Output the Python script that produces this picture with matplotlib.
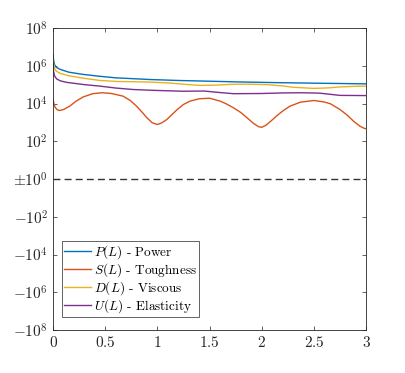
import matplotlib
matplotlib.use('Agg')
import matplotlib.pyplot as plt
import numpy as np

plt.rcParams['font.family'] = ['cmr10', 'DejaVu Serif']
plt.rcParams['mathtext.fontset'] = 'cm'
plt.rcParams['axes.unicode_minus'] = False

# values read as exponents (log10 of magnitude), the axis is sign*log10
xP = [0, 0.005, 0.015, 0.03, 0.067, 0.15, 0.29, 0.45, 0.6, 0.93, 1.2, 1.5, 1.8, 2.2, 2.6, 3.0]
yP = [6.6, 6.3, 6.05, 5.92, 5.81, 5.66, 5.54, 5.44, 5.36, 5.27, 5.22, 5.18, 5.14, 5.1, 5.07, 5.04]

xS = [0, 0.01, 0.02, 0.04, 0.06, 0.1, 0.16, 0.22, 0.29, 0.38, 0.47, 0.56, 0.67, 0.74, 0.8, 0.86,
      0.9, 0.95, 1.0, 1.04, 1.09, 1.14, 1.19, 1.25, 1.31, 1.4, 1.5, 1.6, 1.66, 1.73, 1.8, 1.86,
      1.92, 1.97, 2.0, 2.04, 2.09, 2.14, 2.2, 2.27, 2.37, 2.5, 2.6, 2.66, 2.75, 2.82, 2.88, 2.94,
      2.98, 3.0]
yS = [4.21, 3.95, 3.8, 3.67, 3.63, 3.68, 3.86, 4.12, 4.35, 4.52, 4.57, 4.53, 4.39, 4.16, 3.86, 3.5,
      3.24, 2.98, 2.89, 2.97, 3.15, 3.42, 3.68, 3.95, 4.12, 4.25, 4.28, 4.13, 3.98, 3.77, 3.52, 3.24,
      2.95, 2.77, 2.74, 2.85, 3.08, 3.33, 3.6, 3.86, 4.07, 4.16, 4.08, 3.98, 3.68, 3.38, 3.06, 2.8,
      2.69, 2.66]

xD = [0, 0.005, 0.015, 0.03, 0.067, 0.15, 0.29, 0.45, 0.6, 0.9, 1.1, 1.3, 1.41, 1.55, 1.73, 1.9,
      2.05, 2.2, 2.3, 2.5, 2.65, 2.75, 2.9, 3.0]
yD = [6.44, 6.1, 5.85, 5.72, 5.6, 5.47, 5.34, 5.22, 5.17, 5.14, 5.09, 5.0, 4.96, 4.97, 5.02, 5.02,
      5.0, 4.93, 4.86, 4.8, 4.83, 4.88, 4.91, 4.92]

xU = [0, 0.005, 0.015, 0.035, 0.07, 0.13, 0.3, 0.45, 0.6, 0.77, 1.0, 1.25, 1.45, 1.6, 1.73, 2.0,
      2.2, 2.37, 2.55, 2.75, 3.0]
yU = [6.1, 5.7, 5.45, 5.3, 5.2, 5.12, 5.0, 4.92, 4.82, 4.74, 4.69, 4.65, 4.66, 4.58, 4.52, 4.53,
      4.56, 4.57, 4.55, 4.43, 4.42]

labels = [r'$P(L)$ - Power', r'$S(L)$ - Toughness', r'$D(L)$ - Viscous', r'$U(L)$ - Elasticity']
colors = ['#0072BD', '#D95319', '#EDB120', '#7E2F8E']

ytick_pos = [8, 6, 4, 2, 0, -2, -4, -6, -8]
ytick_lab = [r'$10^{8}$', r'$10^{6}$', r'$10^{4}$', r'$10^{2}$', r'$\pm10^{0}$',
             r'$-10^{2}$', r'$-10^{4}$', r'$-10^{6}$', r'$-10^{8}$']
xtick_pos = [0, 0.5, 1, 1.5, 2, 2.5, 3]
xtick_lab = ['0', '0.5', '1', '1.5', '2', '2.5', '3']

fig = plt.figure(figsize=(4.05, 3.73), dpi=100)
ax = fig.add_axes([0.131, 0.115, 0.773, 0.810])

for xs, ys, c, lab in zip([xP, xS, xD, xU], [yP, yS, yD, yU], colors, labels):
    ax.plot(xs, ys, color=c, lw=1.0, label=lab)

ax.axhline(0, color='#333333', ls='--', lw=1.0, dashes=(5, 3))

ax.set_xlim(0, 3)
ax.set_ylim(-8, 8)
ax.set_xticks(xtick_pos)
ax.set_xticklabels([r'$%s$' % t for t in xtick_lab], fontsize=11)
ax.set_yticks(ytick_pos)
ax.set_yticklabels(ytick_lab, fontsize=11)
ax.tick_params(direction='in', length=3, width=0.5, color='#262626',
               top=True, right=True, labelcolor='#262626')
for s in ax.spines.values():
    s.set_linewidth(0.6)
    s.set_color('#262626')

leg = ax.legend(loc='lower left', bbox_to_anchor=(0.029, 0.043), fontsize=9.5,
                handlelength=2.0, handletextpad=0.3, labelspacing=0.02,
                borderpad=0.15, borderaxespad=0.0, fancybox=False, framealpha=1)
leg.get_frame().set_edgecolor('#262626')
leg.get_frame().set_linewidth(0.5)

fig.savefig('out.png', dpi=100)
